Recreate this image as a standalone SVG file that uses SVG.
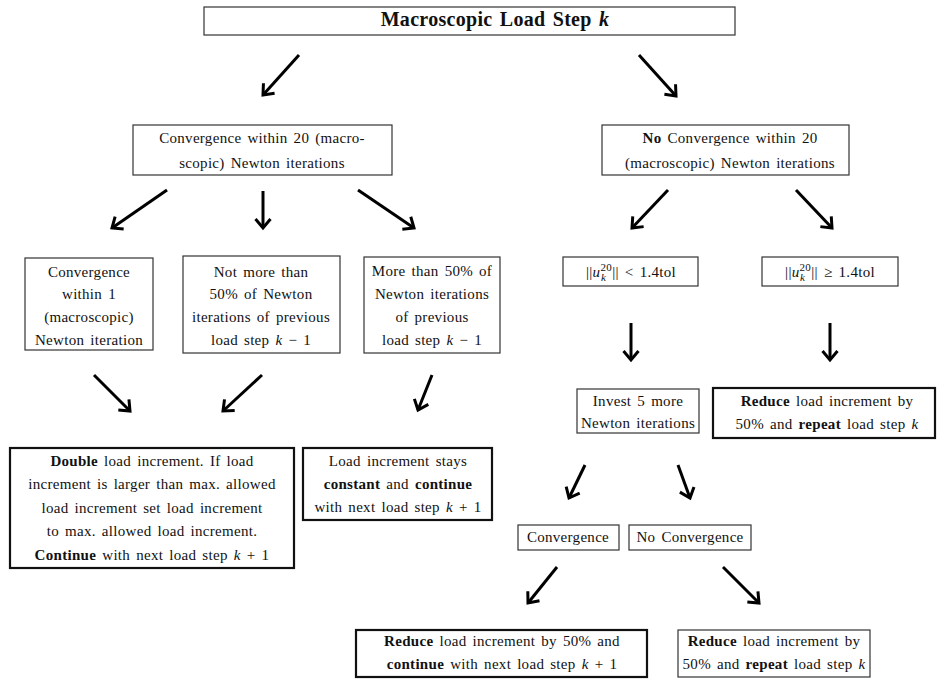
<svg xmlns="http://www.w3.org/2000/svg" width="939" height="680" viewBox="0 0 939 680">
<style>
text{font-family:"Liberation Serif","DejaVu Serif",serif;font-size:15px;fill:#111;text-anchor:middle;word-spacing:2px;letter-spacing:0.3px}
.b{font-weight:bold}
.i{font-style:italic}
.box{fill:#fff;stroke:#333;stroke-width:1.2}
.tbox{fill:#fff;stroke:#111;stroke-width:2.2}
.arr{stroke:#000;stroke-width:3;fill:none;marker-end:url(#ah)}
</style>
<defs>
<marker id="ah" markerUnits="userSpaceOnUse" viewBox="-14 -10 18 20" markerWidth="18" markerHeight="20" refX="0" refY="0" orient="auto" overflow="visible">
<path d="M-9,-7.5 L0,0 L-9,7.5" fill="none" stroke="#000" stroke-width="3"/>
</marker>
</defs>

<g id="top">
<rect class="box" x="204" y="7" width="531" height="28"/>
<text x="495" y="26" class="b" style="font-size:20px">Macroscopic Load Step <tspan class="i">k</tspan></text>
</g>

<g id="conv20">
<rect class="box" x="133" y="125" width="259" height="50"/>
<text x="262" y="143">Convergence within 20 (macro-</text>
<text x="262" y="168">scopic) Newton iterations</text>
</g>

<g id="noconv20">
<rect class="box" x="602" y="125" width="247" height="50"/>
<text x="730" y="143"><tspan class="b">No</tspan> Convergence within 20</text>
<text x="730" y="168">(macroscopic) Newton iterations</text>
</g>

<g id="within1">
<rect class="box" x="25" y="258" width="128" height="92"/>
<text x="89" y="277">Convergence</text>
<text x="89" y="299">within 1</text>
<text x="89" y="322">(macroscopic)</text>
<text x="89" y="345">Newton iteration</text>
</g>

<g id="notmore50">
<rect class="box" x="183" y="256" width="157" height="97"/>
<text x="261" y="277">Not more than</text>
<text x="261" y="299">50% of Newton</text>
<text x="261" y="322">iterations of previous</text>
<text x="261" y="345">load step <tspan class="i">k</tspan> − 1</text>
</g>

<g id="more50">
<rect class="box" x="364" y="257" width="136" height="96"/>
<text x="432" y="276">More than 50% of</text>
<text x="432" y="299">Newton iterations</text>
<text x="432" y="322">of previous</text>
<text x="432" y="345">load step <tspan class="i">k</tspan> − 1</text>
</g>

<g id="normless">
<rect class="box" x="563" y="257" width="135" height="29"/>
<text x="631" y="277">||<tspan class="i">u</tspan><tspan style="font-size:11px" dy="-6">20</tspan><tspan class="i" style="font-size:11px" dx="-11" dy="10">k</tspan><tspan dx="6" dy="-4">|| &lt; 1.4tol</tspan></text>
</g>

<g id="normgeq">
<rect class="box" x="762" y="257" width="136" height="29"/>
<text x="830" y="277">||<tspan class="i">u</tspan><tspan style="font-size:11px" dy="-6">20</tspan><tspan class="i" style="font-size:11px" dx="-11" dy="10">k</tspan><tspan dx="6" dy="-4">|| ≥ 1.4tol</tspan></text>
</g>

<g id="invest">
<rect class="box" x="577" y="389" width="122" height="44"/>
<text x="638" y="406">Invest 5 more</text>
<text x="638" y="428">Newton iterations</text>
</g>

<g id="reduceRepeat1">
<rect class="tbox" x="713" y="388" width="222" height="50"/>
<text x="827" y="406"><tspan class="b">Reduce</tspan> load increment by</text>
<text x="827" y="429">50% and <tspan class="b">repeat</tspan> load step <tspan class="i">k</tspan></text>
</g>

<g id="double">
<rect class="tbox" x="10" y="448" width="284" height="120"/>
<text x="152" y="466"><tspan class="b">Double</tspan> load increment.  If load</text>
<text x="152" y="489">increment is larger than max.  allowed</text>
<text x="152" y="513">load increment set load increment</text>
<text x="152" y="536">to max.  allowed load increment.</text>
<text x="152" y="560"><tspan class="b">Continue</tspan> with next load step <tspan class="i">k</tspan> + 1</text>
</g>

<g id="constant">
<rect class="tbox" x="303" y="448" width="189" height="72"/>
<text x="398" y="466">Load increment stays</text>
<text x="398" y="489"><tspan class="b">constant</tspan> and <tspan class="b">continue</tspan></text>
<text x="398" y="512">with next load step <tspan class="i">k</tspan> + 1</text>
</g>

<g id="convergence">
<rect class="box" x="518" y="525" width="101" height="25"/>
<text x="568" y="542">Convergence</text>
</g>

<g id="noconvergence">
<rect class="box" x="629" y="525" width="122" height="25"/>
<text x="690" y="542">No Convergence</text>
</g>

<g id="reduceContinue">
<rect class="tbox" x="356" y="630" width="291" height="47"/>
<text x="502" y="646"><tspan class="b">Reduce</tspan> load increment by 50% and</text>
<text x="502" y="669"><tspan class="b">continue</tspan> with next load step <tspan class="i">k</tspan> + 1</text>
</g>

<g id="reduceRepeat2">
<rect class="box" x="678" y="630" width="192" height="47"/>
<text x="774" y="646"><tspan class="b">Reduce</tspan> load increment by</text>
<text x="774" y="669">50% and <tspan class="b">repeat</tspan> load step <tspan class="i">k</tspan></text>
</g>

<g id="connectors">
<line class="arr" x1="299" y1="55" x2="263" y2="95"/>
<line class="arr" x1="639" y1="55" x2="676" y2="96"/>
<line class="arr" x1="167" y1="190" x2="112" y2="228"/>
<line class="arr" x1="263" y1="191" x2="263" y2="228"/>
<line class="arr" x1="358" y1="190" x2="414" y2="228"/>
<line class="arr" x1="668" y1="190" x2="632" y2="228"/>
<line class="arr" x1="796" y1="190" x2="832" y2="228"/>
<line class="arr" x1="631" y1="323" x2="631" y2="360"/>
<line class="arr" x1="830" y1="323" x2="830" y2="360"/>
<line class="arr" x1="94" y1="375" x2="130" y2="411"/>
<line class="arr" x1="262" y1="375" x2="223" y2="411"/>
<line class="arr" x1="432" y1="375" x2="418" y2="410"/>
<line class="arr" x1="585" y1="465" x2="569" y2="498"/>
<line class="arr" x1="678" y1="465" x2="690" y2="498"/>
<line class="arr" x1="557" y1="567" x2="528" y2="603"/>
<line class="arr" x1="723" y1="567" x2="759" y2="603"/>
</g>
</svg>
